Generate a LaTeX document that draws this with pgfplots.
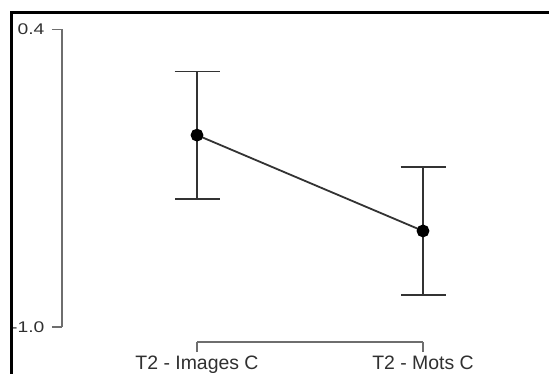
\documentclass[border=0pt]{standalone}
\usepackage{pgfplots}
\pgfplotsset{compat=1.18}
\usepackage{fontspec}
\setmainfont{Liberation Sans}
\newfontfamily\widefont[FakeStretch=1.25]{Liberation Sans}
\definecolor{axgray}{HTML}{6E6E6E}
\definecolor{txt}{HTML}{303030}
\begin{document}
\begin{tikzpicture}
\useasboundingbox (0,0) rectangle (549bp,374bp);
\fill[white] (0,0) rectangle (549bp,374bp);
% y axis only
\begin{axis}[
  at={(62bp,47bp)}, anchor=south west,
  scale only axis, width=361bp, height=297.5bp,
  xmin=-0.597, xmax=1, ymin=-1.0, ymax=0.4,
  axis y line*=left, axis x line=none,
  y axis line style={draw=axgray, line width=1.3bp, -},
  ytick={-1.0,0.4}, yticklabels={-1.0,0.4},
  tick align=outside, major tick length=10bp,
  y tick style={draw=axgray, line width=1.3bp},
  yticklabel style={font=\widefont\fontsize{15.5}{16}\selectfont, text=txt, xshift=-4bp},
]
\end{axis}
% x bracket and data
\begin{axis}[
  at={(197bp,32bp)}, anchor=south west,
  scale only axis, width=226bp, height=312.5bp,
  xmin=0, xmax=1, ymin=-1.0706, ymax=0.4,
  clip=false,
  axis x line*=bottom, axis y line=none,
  x axis line style={draw=axgray, line width=1.3bp, -},
  xtick={0,1}, xticklabels={T2 - Images C, T2 - Mots C},
  tick align=outside, major tick length=10bp,
  x tick style={draw=axgray, line width=1.3bp},
  xticklabel style={font=\fontsize{19.5}{20}\selectfont, text=txt},
]
\addplot[color=black!80, line width=1.8bp, mark=*, mark size=5.5bp,
  mark options={fill=black, draw=black},
  error bars/.cd, y dir=both, y explicit,
  error bar style={line width=1.2bp, black!80},
  error mark options={rotate=90, mark size=22.5bp, line width=1.2bp, black!80}]
  coordinates {
    (0,-0.097) +- (0,0.301)
    (1,-0.548) +- (0,0.301)
  };
\end{axis}
\draw[line width=3bp, black] (11bp,-5bp) -- (11bp,361bp) -- (560bp,361bp);
\end{tikzpicture}
\end{document}
